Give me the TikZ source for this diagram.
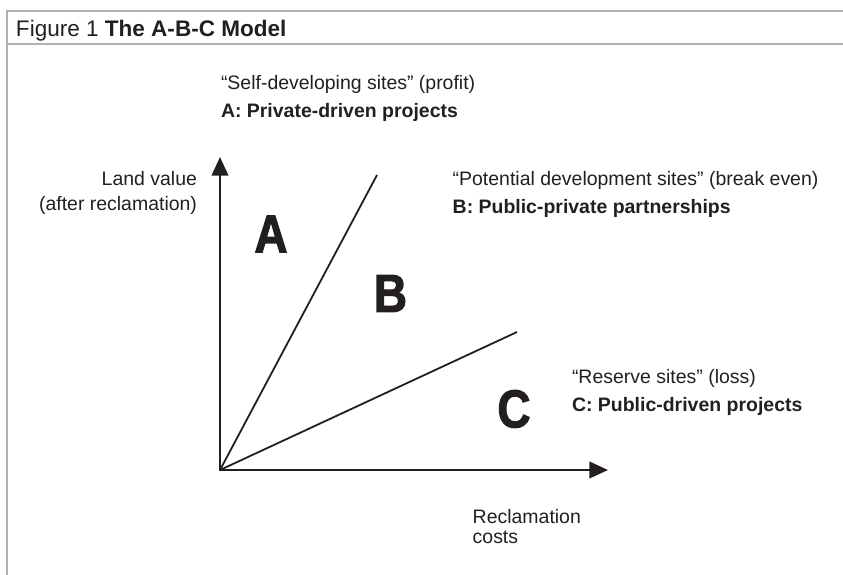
\documentclass[tikz,border=0pt]{standalone}
\usepackage{fontspec}
\setmainfont{Liberation Sans}
\newfontfamily\regionfont[FakeStretch=0.86,FakeBold=2]{Liberation Sans Bold}
\usetikzlibrary{arrows.meta}
\definecolor{ink}{HTML}{231F20}
\definecolor{framegray}{RGB}{176,177,180}
\begin{document}
\begin{tikzpicture}[x=0.75pt,y=-0.75pt,
  txt/.style={inner sep=0pt, outer sep=0pt, anchor=base west, text=ink,
    font=\fontsize{14.6}{17}\selectfont},
  txtb/.style={txt, font=\fontsize{14.6}{17}\selectfont\bfseries},
  txtr/.style={txt, anchor=base east},
  region/.style={inner sep=0pt, outer sep=0pt, text=ink,
    font=\regionfont\fontsize{40}{40}\selectfont},
  axis/.style={draw=ink, line width=1.5pt, line join=miter,
    {Triangle[length=14pt,width=12.5pt]}-{Triangle[length=14pt,width=12.5pt]}},
  divider/.style={draw=ink, line width=1.35pt},
  frame/.style={draw=framegray, line width=2.2pt}]
\useasboundingbox (0,0) rectangle (843,575);

% frame and title bar
\draw[frame] (7,575) -- (7,11) -- (843,11);
\draw[frame] (7,44) -- (843,44);
\node[txt, font=\fontsize{16.9}{20}\selectfont] (title) at (16,36)
  {Figure 1 \textbf{The A-B-C Model}};

% axes and dividing lines
\coordinate (o) at (220,470);
\coordinate (ytip) at (220,157);
\coordinate (xtip) at (608,470);
\coordinate (aend) at (377,175);
\coordinate (bend) at (517,332);
\draw[axis] (ytip) -- (o) -- (xtip);
\draw[divider] (o) -- (aend);
\draw[divider] (o) -- (bend);

% region letters
\node[region] (ra) at (271,234) {A};
\node[region] (rb) at (390.5,293.5) {B};
\node[region] (rc) at (514,409) {C};

% axis labels
\node[txtr] (ylab1) at (197,185.5) {Land value};
\node[txtr] (ylab2) at (197,210.5) {(after reclamation)};
\node[txt] (xlab1) at (472.7,523) {Reclamation};
\node[txt] (xlab2) at (472.7,543) {costs};

% region descriptions
\node[txt]  (da1) at (221,89.3) {“Self-developing sites” (profit)};
\node[txtb] (da2) at (221,117.7) {A: Private-driven projects};
\node[txt]  (db1) at (452.7,185.5) {“Potential development sites” (break even)};
\node[txtb] (db2) at (452.7,213.5) {B: Public-private partnerships};
\node[txt]  (dc1) at (572,383) {“Reserve sites” (loss)};
\node[txtb] (dc2) at (572,411.7) {C: Public-driven projects};
\end{tikzpicture}
\end{document}
